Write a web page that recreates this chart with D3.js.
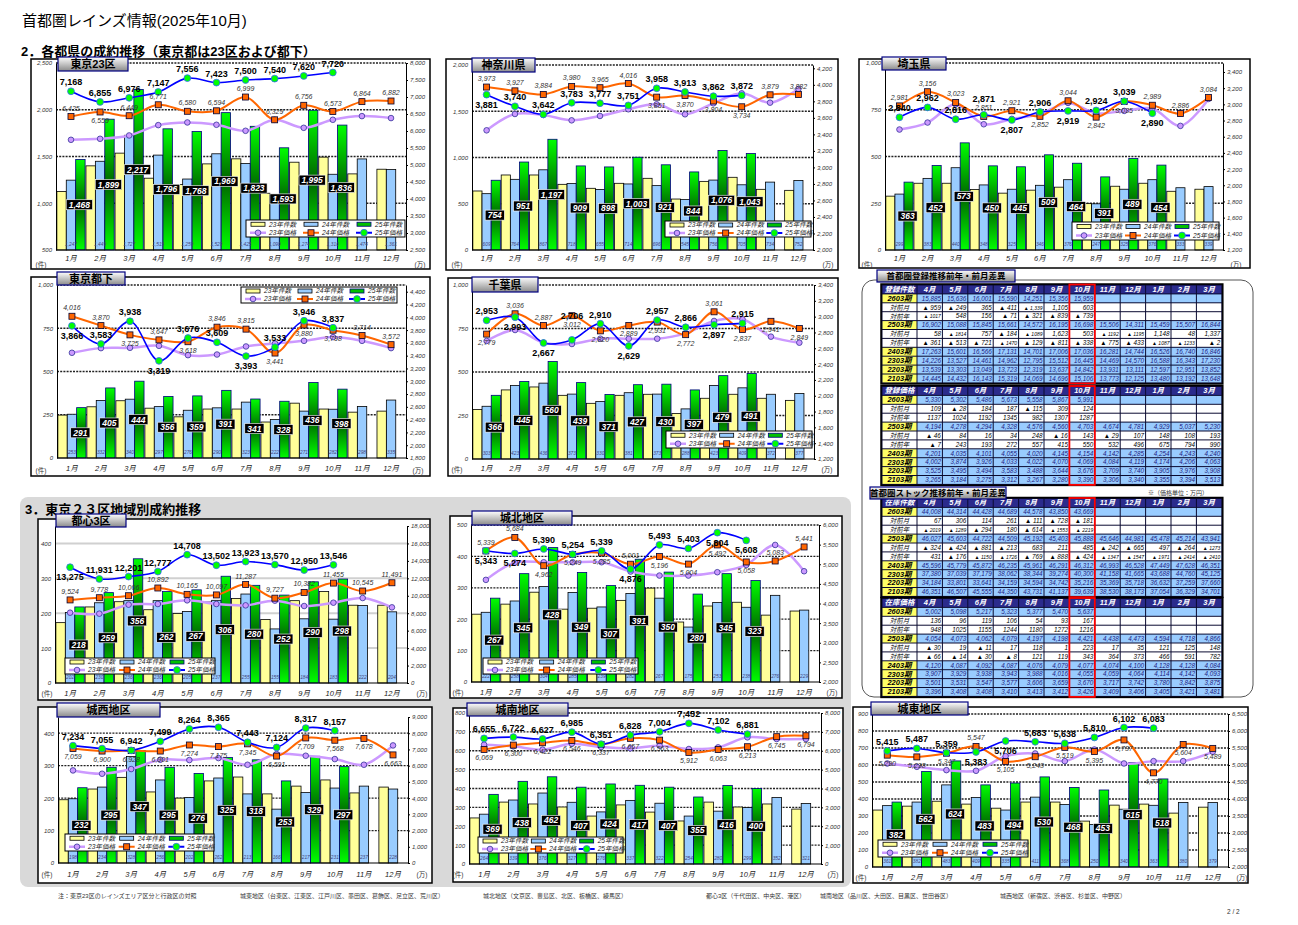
<!DOCTYPE html>
<html>
<head>
<meta charset="utf-8">
<script src="https://cdn.jsdelivr.net/npm/d3@7"></script>
<style>
body { margin:0; background:#fff; }
svg text { font-family: "Liberation Sans", "Noto Sans CJK JP", sans-serif; }
</style>
</head>
<body>
<svg id="page" width="1298" height="925"></svg>
<script>
// ---- common labels
const months = ["1月","2月","3月","4月","5月","6月","7月","8月","9月","10月","11月","12月"];
const fyMonths = ["4月","5月","6月","7月","8月","9月","10月","11月","12月","1月","2月","3月"];
const legendNames = ["23年件数","24年件数","25年件数","23年価格","24年価格","25年価格"];

// ---- 東京23区
const t23_c23 = [1125,1400,1536,1268,1200,1421,1475,1107,1439,1493,1314,1364];
const t23_c24 = [1247,1449,1727,1515,1259,1529,1425,1090,1274,1310,1474,1361];
const t23_c25 = [1468,1899,2217,1796,1768,1969,1823,1593,1995,1836,null,null];
const t23_p23 = [5741,5771,5869,6173,6252,6183,6006,6330,6094,6330,6438,6380];
const t23_p24 = [6425,6559,6449,6771,6580,6594,6999,6329,6756,6573,6864,6882];
const t23_p25 = [7168,6855,6976,7147,7556,7423,7500,7540,7620,7720,null,null];
const t23_lt = [500,1000,1500,2000,2500];
const t23_rt = [2500,3000,3500,4000,4500,5000,5500,6000,6500,7000,7500,8000];

// ---- 神奈川県
const kng_c23 = [638,811,811,710,667,721,775,551,742,786,656,645];
const kng_c24 = [609,764,867,718,655,714,696,545,756,705,734,752];
const kng_c25 = [754,951,1197,909,898,1003,921,844,1076,1043,null,null];
const kng_p23 = [3449,3647,3635,3570,3623,3704,3764,3643,3776,3897,3784,3950];
const kng_p24 = [3973,3927,3884,3980,3965,4016,3851,3870,3804,3734,3879,3882];
const kng_p25 = [3881,3740,3642,3783,3777,3751,3958,3913,3862,3872,null,null];
const kng_lt = [0,500,1000,1500,2000];
const kng_rt = [2000,2200,2400,2600,2800,3000,3200,3400,3600,3800,4000,4200];

// ---- 埼玉県
const stm_c23 = [288,357,357,323,304,320,336,248,341,357,314,325];
const stm_c24 = [299,383,440,348,325,346,376,247,325,376,333,339];
const stm_c25 = [363,452,573,450,445,509,464,391,489,454,null,null];
const stm_p23 = [2689,2775,3000,2754,2820,2880,3018,2890,2919,2948,2734,3067];
const stm_p24 = [2981,3156,3023,2851,2921,2852,3044,2842,3035,2989,2886,3084];
const stm_p25 = [2840,2962,2816,2871,2807,2906,2919,2924,3039,2890,null,null];
const stm_lt = [0,250,500,750,1000];
const stm_rt = [1200,1400,1600,1800,2000,2200,2400,2600,2800,3000,3200,3400];

// ---- 東京都下
const tkb_c23 = [248,296,331,288,238,283,283,208,317,283,265,271];
const tkb_c24 = [253,332,340,297,276,290,323,222,271,282,298,335];
const tkb_c25 = [291,405,444,356,359,391,341,328,436,398,null,null];
const tkb_p23 = [3445,3518,3523,3554,3408,3418,3544,3590,3632,3690,3632,3518];
const tkb_p24 = [4016,3870,3725,3647,3618,3846,3815,3441,3880,3798,3714,3572];
const tkb_p25 = [3866,3583,3938,3319,3676,3609,3393,3533,3946,3837,null,null];
const tkb_lt = [0,250,500,750,1000];
const tkb_rt = [1800,2000,2200,2400,2600,2800,3000,3200,3400,3600,3800,4000,4200,4400];

// ---- 千葉県
const chb_c23 = [285,397,414,366,320,366,372,262,349,372,349,337];
const chb_c24 = [303,423,436,373,330,381,373,288,423,409,372,377];
const chb_c25 = [366,445,560,439,371,427,430,397,479,491,null,null];
const chb_p23 = [2692,2831,2671,2654,2721,2721,2721,2789,2945,2966,2747,2671];
const chb_p24 = [2779,3036,2887,3012,2820,2889,2931,2772,3061,2837,2941,2849];
const chb_p25 = [2953,2993,2667,2706,2910,2629,2957,2866,2897,2915,null,null];
const chb_lt = [0,250,500,750,1000];
const chb_rt = [1200,1400,1600,1800,2000,2200,2400,2600,2800,3000,3200,3400];

// ---- 都心3区
const tsn_c23 = [173,218,233,210,199,232,242,182,236,262,223,223];
const tsn_c24 = [202,230,236,236,205,237,255,155,184,183,222,204];
const tsn_c25 = [218,259,356,262,267,306,280,252,290,298,null,null];
const tsn_p23 = [8063,7948,8980,9056,9477,9056,8903,9438,8827,9209,9744,8674];
const tsn_p24 = [9524,9778,10006,10892,10165,10097,11287,9727,10382,11455,10545,11491];
const tsn_p25 = [13275,11931,12201,12777,14708,13502,13923,13570,12950,13546,null,null];
const tsn_lt = [0,100,200,300,400];
const tsn_rt = [0,2000,4000,6000,8000,10000,12000,14000,16000,18000];

// ---- 城北地区
const jhk_c23 = [216,248,286,232,235,260,299,191,242,254,213,226];
const jhk_c24 = [222,258,304,285,239,282,267,175,253,238,276,229];
const jhk_c25 = [267,345,428,349,307,391,350,280,345,323,null,null];
const jhk_p23 = [4602,5042,5051,5051,5051,4814,4712,4712,4797,4983,5492,4822];
const jhk_p24 = [5339,5684,4962,5249,5285,5001,5196,5004,5492,5058,5083,5441];
const jhk_p25 = [5343,5274,5390,5254,5339,4876,5493,5403,5804,5608,null,null];
const jhk_lt = [0,100,200,300,400,500];
const jhk_rt = [2000,2500,3000,3500,4000,4500,5000,5500,6000];

// ---- 城西地区
const jsi_c23 = [195,228,264,219,200,253,265,213,237,256,216,234];
const jsi_c24 = [198,234,328,256,202,262,213,166,217,231,237,228];
const jsi_c25 = [232,295,347,295,276,325,318,253,329,297,null,null];
const jsi_p23 = [5708,5503,5791,6366,6345,6468,6057,6714,6612,6407,6057,7248];
const jsi_p24 = [7059,6900,6928,6901,7274,7175,7345,6591,7709,7568,7678,6663];
const jsi_p25 = [7234,7055,6942,7499,8264,8365,7443,7124,8317,8157,null,null];
const jsi_lt = [0,100,200,300,400];
const jsi_rt = [0,1000,2000,3000,4000,5000,6000,7000,8000,9000];

// ---- 城南地区
const jnn_c23 = [244,328,318,302,254,313,275,228,328,302,318,291];
const jnn_c24 = [264,339,376,327,276,337,322,254,280,299,352,321];
const jnn_c25 = [369,438,462,407,424,417,407,355,416,400,null,null];
const jnn_p23 = [6322,6233,6057,6375,6198,6128,6269,6092,6180,6710,6622,6622];
const jnn_p24 = [6069,6300,6422,6546,6337,6657,6563,5912,6063,6213,6745,6794];
const jnn_p25 = [6655,6722,6627,6985,6351,6828,7004,7452,7102,6881,null,null];
const jnn_lt = [0,100,200,300,400,500,600,700,800];
const jnn_rt = [0,1000,2000,3000,4000,5000,6000,7000,8000];

// ---- 城東地区
const jto_c23 = [335,358,387,370,346,382,382,270,364,370,317,352];
const jto_c24 = [361,382,483,409,335,411,368,250,340,363,380,379];
const jto_c25 = [382,562,624,483,494,530,468,453,615,518,null,null];
const jto_p23 = [5045,4947,4849,4830,5260,5339,5114,5456,5045,5114,5114,5388];
const jto_p24 = [5290,5238,5347,5547,5105,5243,5519,5395,5737,4770,5604,5489];
const jto_p25 = [5415,5487,5359,5383,5706,5683,5638,5810,6102,6083,null,null];
const jto_lt = [0,100,200,300,400,500,600,700,800,900];
const jto_rt = [2000,2500,3000,3500,4000,4500,5000,5500,6000,6500];

// ---- tables
const tblRegCount = [
 ["2603期",["15,885","15,636","16,001","15,590","14,251","15,356","15,959","","","","",""]],
 ["対前月",["▲959","▲249","365","▲411","▲1,339","1,105","603","","","","",""]],
 ["対前年",["▲1017","548","156","▲71","▲321","▲839","▲739","","","","",""]],
 ["2503期",["16,902","15,088","15,845","15,661","14,572","16,195","16,698","15,506","14,311","15,459","15,507","16,844"]],
 ["対前月",["58","▲1814","757","▲184","▲1089","1,623","503","▲1192","▲1195","1,148","48","1,337"]],
 ["対前年",["▲361","▲513","▲721","▲1470","▲129","▲811","▲338","▲775","▲433","▲1087","▲1233","▲2"]],
 ["2403期",["17,263","15,601","16,566","17,131","14,701","17,006","17,036","16,281","14,744","16,526","16,740","16,846"]],
 ["2303期",["14,226","13,527","14,461","14,962","12,795","15,512","16,445","14,469","14,570","16,588","16,343","17,230"]],
 ["2203期",["13,539","13,303","13,049","13,723","12,319","13,637","14,842","13,931","13,111","12,597","12,951","13,852"]],
 ["2103期",["14,445","14,432","16,143","15,319","14,069","14,696","15,106","13,773","12,125","13,480","13,192","13,648"]]
];
const tblRegPrice = [
 ["2603期",["5,330","5,302","5,486","5,673","5,558","5,867","5,991","","","","",""]],
 ["対前月",["109","▲28","184","187","▲115","309","124","","","","",""]],
 ["対前年",["1137","1024","1192","1345","982","1307","1287","","","","",""]],
 ["2503期",["4,194","4,278","4,294","4,328","4,576","4,560","4,703","4,674","4,781","4,929","5,037","5,230"]],
 ["対前月",["▲46","84","16","34","248","▲16","143","▲29","107","148","108","193"]],
 ["対前年",["▲7","243","193","272","557","415","550","532","496","675","794","990"]],
 ["2403期",["4,201","4,035","4,101","4,055","4,020","4,145","4,154","4,142","4,285","4,254","4,243","4,240"]],
 ["2303期",["4,002","3,874","3,926","4,033","4,022","4,070","4,069","4,084","4,119","4,174","4,206","4,063"]],
 ["2203期",["3,525","3,495","3,494","3,583","3,488","3,644","3,676","3,709","3,740","3,905","3,976","3,908"]],
 ["2103期",["3,265","3,184","3,275","3,312","3,267","3,280","3,390","3,306","3,340","3,355","3,394","3,513"]]
];
const tblStockCount = [
 ["2603期",["44,008","44,314","44,428","44,689","44,578","43,850","43,669","","","","",""]],
 ["対前月",["67","306","114","261","▲111","▲728","▲181","","","","",""]],
 ["対前年",["▲2019","▲1289","▲294","180","▲614","▲1553","▲2219","","","","",""]],
 ["2503期",["46,027","45,603","44,722","44,509","45,192","45,403","45,888","45,646","44,981","45,478","45,214","43,941"]],
 ["対前月",["▲324","▲424","▲881","▲213","683","211","485","▲242","▲665","497","▲264","▲1273"]],
 ["対前年",["431","▲176","▲1150","▲1726","▲769","▲888","▲424","▲1347","▲1547","▲1971","▲2414","▲2410"]],
 ["2403期",["45,596","45,779","45,872","46,235","45,961","46,291","46,312","46,993","46,528","47,449","47,628","46,351"]],
 ["2303期",["37,380","37,039","37,179","38,062","38,344","39,274","40,300","41,158","41,665","43,688","44,760","45,125"]],
 ["2203期",["34,184","33,801","33,641","34,159","34,594","34,742","35,216","35,369","35,718","36,632","37,259","37,660"]],
 ["2103期",["46,351","46,507","45,555","44,350","43,731","41,137","39,639","38,530","38,173","37,054","36,329","34,701"]]
];
const tblStockPrice = [
 ["2603期",["5,002","5,098","5,217","5,323","5,377","5,470","5,637","","","","",""]],
 ["対前月",["136","96","119","106","54","93","167","","","","",""]],
 ["対前年",["948","1025","1155","1244","1180","1272","1216","","","","",""]],
 ["2503期",["4,054","4,073","4,062","4,079","4,197","4,198","4,421","4,438","4,473","4,594","4,718","4,866"]],
 ["対前月",["▲30","19","▲11","17","118","1","223","17","35","121","125","148"]],
 ["対前年",["▲66","▲14","▲30","▲8","121","119","343","364","373","466","591","782"]],
 ["2403期",["4,120","4,087","4,092","4,087","4,076","4,079","4,077","4,074","4,100","4,128","4,128","4,084"]],
 ["2303期",["3,907","3,929","3,938","3,943","3,988","4,016","4,055","4,059","4,064","4,114","4,142","4,093"]],
 ["2203期",["3,501","3,531","3,547","3,577","3,606","3,659","3,670","3,717","3,742","3,780","3,842","3,875"]],
 ["2103期",["3,396","3,408","3,408","3,410","3,413","3,412","3,426","3,409","3,406","3,405","3,421","3,481"]]
];

const footNotes = ["注：東京23区のレインズエリア区分と行政区の対照",
  "城東地区（台東区、江東区、江戸川区、墨田区、葛飾区、足立区、荒川区）",
  "城北地区（文京区、豊島区、北区、板橋区、練馬区）",
  "都心3区（千代田区、中央区、港区）",
  "城南地区（品川区、大田区、目黒区、世田谷区）",
  "城西地区（新宿区、渋谷区、杉並区、中野区）"];

// ---- layout of each chart
const charts = [
 {name:"東京23区", c:[t23_c23,t23_c24,t23_c25], p:[t23_p23,t23_p24,t23_p25], ld:[500,2500], lt:t23_lt, rd:[2500,8000], rt:t23_rt,
  frame:[31,59,399,210], plot:[56,406,63,250], title:[58,57,70,14], legend:[246,220,159,17], my:261, uy:267, ux:[41,420],
  l25:"uuuuuuuuuu", l24:"uduuuuuuuuuu"},
 {name:"神奈川県", c:[kng_c23,kng_c24,kng_c25], p:[kng_p23,kng_p24,kng_p25], ld:[0,2000], lt:kng_lt, rd:[2000,4240], rt:kng_rt,
  frame:[446,59,392,211], plot:[472,813,65,250], title:[472,58,63,14], legend:[665,221,146,16], my:261, uy:267, ux:[457,828],
  l25:"duuuuuuuuu", l24:"uuuuuudddduu"},
 {name:"埼玉県", c:[stm_c23,stm_c24,stm_c25], p:[stm_p23,stm_p24,stm_p25], ld:[0,1000], lt:stm_lt, rd:[1200,3511], rt:stm_rt,
  frame:[859,59,391,209], plot:[885,1223,63,250], title:[882,57,64,13], legend:[1072,222,147,18], my:261, uy:267, ux:[867,1236],
  l25:"uuuududuud", l24:"uuuuududduuu"},
 {name:"東京都下", c:[tkb_c23,tkb_c24,tkb_c25], p:[tkb_p23,tkb_p24,tkb_p25], ld:[0,1000], lt:tkb_lt, rd:[1800,4505], rt:tkb_rt,
  frame:[31,277,399,199], plot:[57,406,285,458], title:[57,272,68,13], legend:[241,287,156,16], my:471, uy:473, ux:[41,418],
  l25:"duuduuduuu", l24:"uududuuddduu"},
 {name:"千葉県", c:[chb_c23,chb_c24,chb_c25], p:[chb_p23,chb_p24,chb_p25], ld:[0,1000], lt:chb_lt, rd:[1200,3400], rt:chb_rt,
  frame:[448,278,390,198], plot:[472,814,285,459], title:[472,277,66,15], legend:[666,431,146,17], my:471, uy:472, ux:[457,827],
  l25:"udduuduudu", l24:"duuddddduddd"},
 {name:"都心3区", c:[tsn_c23,tsn_c24,tsn_c25], p:[tsn_p23,tsn_p24,tsn_p25], ld:[0,450], lt:tsn_lt, rd:[0,18000], rt:tsn_rt, grid:"light",
  frame:[38,519,392,181], plot:[55,407,526,683], title:[56,514,70,13], legend:[65,658,150,16], my:696, uy:696, ux:[47,422],
  l25:"duuuuuuuuu", l24:"uuuuuuuuuuuu"},
 {name:"城北地区", c:[jhk_c23,jhk_c24,jhk_c25], p:[jhk_p23,jhk_p24,jhk_p25], ld:[0,500], lt:jhk_lt, rd:[2000,6000], rt:jhk_rt,
  frame:[450,516,392,182], plot:[471,819,525,682], title:[472,511,100,14], legend:[483,658,155,16], my:695, uy:695, ux:[458,832],
  l25:"dduuuduudd", l24:"uudddudddduu"},
 {name:"城西地区", c:[jsi_c23,jsi_c24,jsi_c25], p:[jsi_p23,jsi_p24,jsi_p25], ld:[0,450], lt:jsi_lt, rd:[0,9000], rt:jsi_rt,
  frame:[38,707,394,176], plot:[58,408,717,863], title:[57,703,103,14], legend:[65,834,149,17], my:877, uy:877, ux:[47,422],
  l25:"uuuuuuuuuu", l24:"dddddddddddd"},
 {name:"城南地区", c:[jnn_c23,jnn_c24,jnn_c25], p:[jnn_p23,jnn_p24,jnn_p25], ld:[0,800], lt:jnn_lt, rd:[0,8000], rt:jnn_rt,
  frame:[453,708,390,174], plot:[469,821,713,864], title:[467,703,101,13], legend:[478,837,145,16], my:877, uy:877, ux:[458,833],
  l25:"uuuuuuuuuu", l24:"dddddddddddd"},
 {name:"城東地区", c:[jto_c23,jto_c24,jto_c25], p:[jto_p23,jto_p24,jto_p25], ld:[0,900], lt:jto_lt, rd:[2000,6500], rt:jto_rt,
  frame:[853,707,395,176], plot:[872,1228,714,867], title:[871,702,97,13], legend:[878,840,150,17], my:880, uy:880, ux:[861,1242],
  l25:"uuudduuuuu", l24:"dddudddddddd"}
];

const svg = d3.select("#page");
const defs = svg.append("defs");
const fmt = d3.format(",");

// green bar gradient
const gg = defs.append("linearGradient").attr("id","gGreen").attr("x1",0).attr("y1",0).attr("x2",0).attr("y2",1);
gg.append("stop").attr("offset","0%").attr("stop-color","#00ff00");
gg.append("stop").attr("offset","50%").attr("stop-color","#006400");
gg.append("stop").attr("offset","100%").attr("stop-color","#00ff00");
// title tab gradient
const tg = defs.append("linearGradient").attr("id","gTab").attr("x1",0).attr("y1",0).attr("x2",0).attr("y2",1);
tg.append("stop").attr("offset","0%").attr("stop-color","#ffffff");
tg.append("stop").attr("offset","100%").attr("stop-color","#8a8a8a");

const lineCol = ["#cc99ff","#ff6600","#0000ff"];
const barFill = ["#ffff99","#99ccff","url(#gGreen)"];
const barStroke = ["#000","#000","#000080"];

// ---- page headings
svg.append("text").attr("x",22).attr("y",26).attr("font-size",15).text("首都圏レインズ情報(2025年10月)");
svg.append("text").attr("x",21).attr("y",56).attr("font-size",13).attr("font-weight","bold")
  .text("2．各都県の成約推移（東京都は23区および都下）");

// section 3 gray panel
svg.append("rect").attr("x",20).attr("y",497).attr("width",831).attr("height",390).attr("rx",8)
  .attr("fill","#d9d9d9");
svg.append("text").attr("x",25).attr("y",514).attr("font-size",13).attr("font-weight","bold")
  .text("3．東京２３区地域別成約推移");

function marker(g, k, x, y) {
  if (k === 0) {
    g.append("circle").attr("cx",x).attr("cy",y).attr("r",2.8).attr("fill","#cc99ff").attr("stroke","#333399").attr("stroke-width",0.8);
  } else if (k === 1) {
    g.append("rect").attr("x",x-3).attr("y",y-3).attr("width",6).attr("height",6).attr("fill","#ff6600").attr("stroke","#000033").attr("stroke-width",0.8);
  } else {
    g.append("circle").attr("cx",x).attr("cy",y).attr("r",3.4).attr("fill","#00ff00").attr("stroke","#3366ff").attr("stroke-width",0.8);
  }
}

function tab(x, y, w, h, label, size) {
  svg.append("rect").attr("x",x).attr("y",y).attr("width",w).attr("height",h)
    .attr("fill","url(#gTab)").attr("stroke","#000080").attr("stroke-width",1.2);
  svg.append("text").attr("x",x+w/2).attr("y",y+h/2+size*0.38).attr("text-anchor","middle")
    .attr("font-size",size).attr("font-weight","bold").text(label);
}

function drawChart(c) {
  const g = svg.append("g");
  const [fx, fy, fw, fh] = c.frame;
  const [px0, px1, py0, py1] = c.plot;
  g.append("rect").attr("x",fx).attr("y",fy).attr("width",fw).attr("height",fh)
    .attr("fill","#fff").attr("stroke","#000").attr("stroke-width",1.5);

  const x = d3.scaleBand().domain(months).range([px0, px1]).paddingInner(0.03).paddingOuter(0.03);
  const xs = d3.scaleBand().domain([0,1,2]).range([0, x.bandwidth()]);
  const yl = d3.scaleLinear().domain(c.ld).range([py1, py0]);
  const yr = d3.scaleLinear().domain(c.rd).range([py1, py0]);
  const cx = m => x(m) + x.bandwidth() / 2;

  // gridlines
  const light = c.grid === "light";
  g.selectAll(null).data(c.lt.filter(t => t > c.ld[0])).enter().append("line")
    .attr("x1",px0).attr("x2",px1).attr("y1",d => yl(d)).attr("y2",d => yl(d))
    .attr("stroke", light ? "#d0d0d0" : "#222")
    .attr("stroke-width", light ? 2 : 1.3)
    .attr("stroke-dasharray", light ? null : "2,1.2");

  // bars
  c.c.forEach((vals, si) => {
    const data = months.map((m, i) => ({m, v: vals[i]})).filter(d => d.v != null);
    g.selectAll(null).data(data).enter().append("rect")
      .attr("x", d => x(d.m) + xs(si)).attr("width", xs.bandwidth())
      .attr("y", d => yl(d.v)).attr("height", d => yl(c.ld[0]) - yl(d.v))
      .attr("fill", barFill[si]).attr("stroke", barStroke[si]).attr("stroke-width", 0.8);
  });

  // small 24年 counts at the bottom of the blue bars
  g.selectAll(null).data(months.map((m, i) => ({m, v: c.c[1][i]}))).enter().append("text")
    .attr("x", d => x(d.m) + xs(1) + xs.bandwidth()/2).attr("y", py1 - 4)
    .attr("text-anchor","middle").attr("font-size",4.8).attr("font-style","italic").attr("fill","#44447a")
    .text(d => fmt(d.v));

  // black boxes with 25年 counts
  months.forEach((m, i) => {
    const v = c.c[2][i];
    if (v == null) return;
    const bx = x(m) + xs(2) + xs.bandwidth()/2 - 1;
    const by = (yl(v) + py1) / 2;
    const t = g.append("text").attr("x",bx).attr("y",by+3).attr("text-anchor","middle")
      .attr("font-size",8.5).attr("font-weight","bold").attr("font-style","italic").attr("fill","#fff").text(fmt(v));
    const w = t.node().getComputedTextLength() + 5;
    g.insert("rect", () => t.node()).attr("x",bx - w/2).attr("y",by-5).attr("width",w).attr("height",10)
      .attr("fill","#000").attr("stroke","#fff").attr("stroke-width",0.6);
  });

  // axes
  const la = g.append("g").attr("transform",`translate(${px0},0)`)
    .call(d3.axisLeft(yl).tickValues(c.lt).tickFormat(fmt).tickSize(0).tickSizeOuter(0).tickPadding(4));
  const ra = g.append("g").attr("transform",`translate(${px1},0)`)
    .call(d3.axisRight(yr).tickValues(c.rt).tickFormat(fmt).tickSize(2).tickSizeOuter(0).tickPadding(2));
  [la, ra].forEach(a => {
    a.select(".domain").attr("stroke","#000").attr("stroke-width",1);
    a.selectAll("text").attr("font-size",6).attr("font-style","italic").attr("fill","#333")
      .attr("font-family",'"Liberation Sans", sans-serif');
  });
  g.append("line").attr("x1",px0).attr("x2",px1).attr("y1",py1).attr("y2",py1).attr("stroke","#000").attr("stroke-width",1.2);

  // month labels and units
  g.selectAll(null).data(months).enter().append("text")
    .attr("x", d => cx(d)).attr("y", c.my).attr("text-anchor","middle")
    .attr("font-size",7.5).attr("font-style","italic").attr("fill","#222").text(d => d);
  g.append("text").attr("x",c.ux[0]).attr("y",c.uy).attr("text-anchor","middle").attr("font-size",6.5).attr("fill","#333").text("(件)");
  g.append("text").attr("x",c.ux[1]).attr("y",c.uy).attr("text-anchor","middle").attr("font-size",6.5).attr("fill","#333").text("(万)");

  // legend
  const [lx, ly, lw, lh] = c.legend;
  g.append("rect").attr("x",lx).attr("y",ly).attr("width",lw).attr("height",lh)
    .attr("fill","#fff").attr("stroke","#000").attr("stroke-width",1);
  legendNames.forEach((name, k) => {
    const col = k % 3, row = Math.floor(k / 3);
    const ix = lx + col * lw / 3 + 5, iy = ly + lh * (row * 2 + 1) / 4;
    if (row === 0) {
      g.append("rect").attr("x",ix).attr("y",iy-2).attr("width",14).attr("height",4)
        .attr("fill", k === 2 ? "#00c000" : barFill[k]).attr("stroke", barStroke[k]).attr("stroke-width",0.8);
    } else {
      g.append("line").attr("x1",ix-1).attr("x2",ix+15).attr("y1",iy).attr("y2",iy)
        .attr("stroke", lineCol[col]).attr("stroke-width", col === 0 ? 2.5 : 2);
      marker(g, col, ix + 7, iy);
    }
    g.append("text").attr("x",ix+18).attr("y",iy+2.4).attr("font-size",6.6).attr("font-style","italic")
      .attr("fill","#222").text(name);
  });

  // price lines
  const line = d3.line().defined(d => d.v != null).x(d => cx(d.m)).y(d => yr(d.v))
    .curve(d3.curveCatmullRom.alpha(0.5));
  c.p.forEach((vals, k) => {
    const data = months.map((m, i) => ({m, v: vals[i]}));
    g.append("path").attr("d", line(data)).attr("fill","none")
      .attr("stroke", lineCol[k]).attr("stroke-width", k === 0 ? 2.5 : (k === 1 ? 2 : 1.6));
  });
  c.p.forEach((vals, k) => {
    months.forEach((m, i) => { if (vals[i] != null) marker(g, k, cx(m), yr(vals[i])); });
  });

  // price labels (24年 small italic, 25年 bold); nudge the bold one if both sit on the same side
  months.forEach((m, i) => {
    const v24 = c.p[1][i], v25 = c.p[2][i];
    let y24 = null;
    if (v24 != null) {
      const up = c.l24[i] === "u";
      y24 = yr(v24) + (up ? -6 : 11);
      g.append("text").attr("x",cx(m)).attr("y", y24).attr("text-anchor","middle")
        .attr("font-size",7).attr("font-style","italic").attr("fill","#333").text(fmt(v24));
    }
    if (v25 != null) {
      const up = c.l25[i] === "u";
      let y25 = yr(v25) + (up ? -6 : 13);
      if (y24 != null && Math.abs(y25 - y24) < 8) {
        y25 = up ? Math.min(y25, y24 - 8) : Math.max(y25, y24 + 9);
      }
      g.append("text").attr("x",cx(m)).attr("y", y25).attr("text-anchor","middle")
        .attr("font-size",9).attr("font-weight","bold").attr("fill","#000").text(fmt(v25));
    }
  });

  tab(c.title[0], c.title[1], c.title[2], c.title[3], c.name, 11);
}

charts.forEach(drawChart);

// ---- tables
svg.append("rect").attr("x",862).attr("y",280).attr("width",391).attr("height",417).attr("rx",12)
  .attr("fill","#fff").attr("stroke","#555").attr("stroke-width",1);

function drawTable(tx, ty, head, rows) {
  const c0 = 35, cw = 25.4, rh = 8.9;
  const W = c0 + cw * 12, H = rh * (rows.length + 1);
  const g = svg.append("g");
  g.append("rect").attr("x",tx-1).attr("y",ty-1).attr("width",W+2).attr("height",H+2)
    .attr("fill","#0a0a30").attr("stroke","#000").attr("stroke-width",1.5);
  const colX = i => i === 0 ? tx : tx + c0 + (i - 1) * cw;
  const colW = i => i === 0 ? c0 : cw;
  const cell = (i, y, fill) => g.append("rect").attr("x",colX(i)+0.5).attr("y",y+0.5)
    .attr("width",colW(i)-1).attr("height",rh-1).attr("fill",fill);

  [head].concat(fyMonths).forEach((t, i) => {
    cell(i, ty, "#2b2b8c");
    g.append("text").attr("x",colX(i)+colW(i)/2).attr("y",ty+rh-2).attr("text-anchor","middle")
      .attr("font-size",7.5).attr("font-weight","bold").attr("font-style","italic").attr("fill","#fff").text(t);
  });
  rows.forEach((r, ri) => {
    const y = ty + rh * (ri + 1);
    const period = r[0].endsWith("期");
    cell(0, y, period ? "#ffff66" : "#fff");
    g.append("text").attr("x",tx+c0/2).attr("y",y+rh-2.1).attr("text-anchor","middle")
      .attr("font-size", period ? 7.5 : 6.5).attr("font-weight", period ? "bold" : "normal")
      .attr("font-style","italic").attr("fill","#000").text(r[0]);
    r[1].forEach((v, j) => {
      const i = j + 1;
      if (!period && v === "") { cell(i, y, "#fff"); return; }
      cell(i, y, period ? "#99ccff" : "#fff");
      const s = v.replace("▲", "▲ ");
      g.append("text").attr("x",colX(i)+colW(i)-1.5).attr("y",y+rh-2.2).attr("text-anchor","end")
        .attr("font-size", s.length > 5 && !period ? 5 : 6.3).attr("font-style","italic")
        .attr("fill", period ? "#202080" : "#000").text(s);
    });
  });
  g.append("rect").attr("x",tx+c0+6*cw).attr("y",ty-0.5).attr("width",cw).attr("height",H+1)
    .attr("fill","none").attr("stroke","#ff0000").attr("stroke-width",1.8);
}

drawTable(882, 285, "登録件数", tblRegCount);
drawTable(882, 386.5, "登録価格", tblRegPrice);
drawTable(882, 498.5, "在庫件数", tblStockCount);
drawTable(882, 598.5, "在庫価格", tblStockPrice);

tab(877, 270, 138, 12, "首都圏登録推移前年・前月差異", 8.5);
tab(870, 487, 136, 12, "首都圏ストック推移前年・前月差異", 8.5);
svg.append("text").attr("x",1148).attr("y",495).attr("font-size",6).attr("fill","#333").text("※（価格単位：万円）");

// ---- footer
const footX = [58, 240, 483, 706, 820, 1000];
footNotes.forEach((t, i) => {
  svg.append("text").attr("x",footX[i]).attr("y",898).attr("font-size",6).attr("fill","#333").text(t);
});
svg.append("text").attr("x",1227).attr("y",914).attr("font-size",6.5).attr("fill","#333").text("2 / 2");
</script>
</body>
</html>
